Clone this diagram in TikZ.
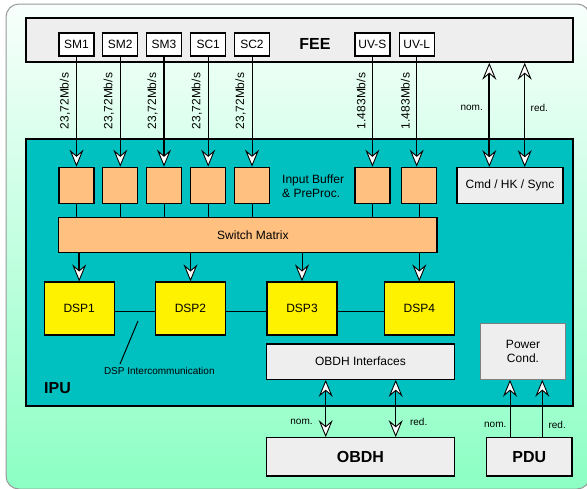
\documentclass[tikz,border=0pt]{standalone}
\usepackage{fontspec}
\setmainfont{Liberation Sans}
\usetikzlibrary{arrows.meta}
\definecolor{teal0}{RGB}{0,192,192}
\definecolor{peach}{RGB}{255,192,128}
\definecolor{boxgray}{RGB}{238,238,238}
\definecolor{mintb}{RGB}{140,255,196}
\definecolor{mintt}{RGB}{248,255,252}
\tikzset{
  base/.style={draw=black, line width=1.3pt, inner sep=0pt, font=\fontsize{12}{14}\selectfont},
  chan/.style={base, fill=white, minimum width=35pt, minimum height=23pt},
  buf/.style={base, fill=peach, minimum width=35pt, minimum height=36pt},
  dsp/.style={base, fill=yellow, minimum width=70pt, minimum height=53pt},
  gbox/.style={base, fill=boxgray},
  bigtxt/.style={font=\fontsize{16}{18}\selectfont\bfseries},
  small/.style={font=\fontsize{10}{12}\selectfont, inner sep=0pt},
  rate/.style={font=\fontsize{12}{14}\selectfont, rotate=90, inner sep=0pt},
  conn/.style={draw=black, line width=1pt},
  arr/.style={conn, -{Stealth[length=17pt, width=14pt, inset=6pt, fill=white, line width=0.9pt]}},
  darr/.style={conn, {Stealth[length=17pt, width=14pt, inset=6pt, fill=white, line width=0.9pt]}-{Stealth[length=17pt, width=14pt, inset=6pt, fill=white, line width=0.9pt]}},
}
\begin{document}
\begin{tikzpicture}[x=1pt,y=-1pt]
\useasboundingbox (0,0) rectangle (587,488);
\clip (0,0) rectangle (587,488);
% background
\shade[top color=mintt, bottom color=mintb, draw=gray!80, line width=1pt, rounded corners=13pt] (6,4) rectangle (590,489);
% FEE and IPU
\node[gbox, line width=1.6pt, minimum width=547pt, minimum height=44pt] (fee) at (299.5,40) {};
\node[bigtxt] (feel) at (315,44) {FEE};
\node[base, line width=1.6pt, fill=teal0, minimum width=547pt, minimum height=267pt] (ipu) at (299.5,272.5) {};
\node[bigtxt] (ipul) at (57.5,388) {IPU};
% channels
\node[chan] (sm1) at (76.5,44.5) {SM1};
\node[chan] (sm2) at (120.3,44.5) {SM2};
\node[chan] (sm3) at (164,44.5) {SM3};
\node[chan] (sc1) at (208.2,44.5) {SC1};
\node[chan] (sc2) at (252,44.5) {SC2};
\node[chan] (uvs) at (372.4,44.5) {UV-S};
\node[chan] (uvl) at (416.7,44.5) {UV-L};
% buffers
\node[buf] (b1) at (76.5,185.3) {};
\node[buf] (b2) at (120.3,185.3) {};
\node[buf] (b3) at (164,185.3) {};
\node[buf] (b4) at (208.2,185.3) {};
\node[buf] (b5) at (252,185.3) {};
\node[buf] (b6) at (372.4,185.3) {};
\node[buf] (b7) at (419.3,185.3) {};
\node[align=left, anchor=west, inner sep=0pt, font=\fontsize{12}{14.5}\selectfont] (ibl) at (282,186) {Input Buffer\\\& PreProc.};
% switch matrix
\node[buf, minimum width=378.3pt, minimum height=35pt] (sw) at (247.85,235.2) {\hspace{10pt}Switch Matrix};
% DSPs
\node[dsp] (d1) at (79.2,308.5) {DSP1\hspace{9pt}};
\node[dsp] (d2) at (190.5,308.5) {DSP2\hspace{9pt}};
\node[dsp] (d3) at (302,308.5) {DSP3\hspace{9pt}};
\node[dsp] (d4) at (419.3,308.5) {DSP4\hspace{9pt}};
% other boxes
\node[gbox, minimum width=106pt, minimum height=35.6pt] (cmd) at (510,185.5) {Cmd / HK / Sync};
\node[gbox, minimum width=187.6pt, minimum height=35.3pt] (obi) at (360.5,361.6) {OBDH Interfaces};
\node[gbox, draw=gray, line width=1pt, minimum width=84.6pt, minimum height=55.3pt, align=center] (pc) at (523,351.6) {Power\\Cond.};
\node[gbox, bigtxt, minimum width=187.6pt, minimum height=38.3pt] (obdh) at (360.5,456.9) {OBDH};
\node[gbox, bigtxt, minimum width=85.3pt, minimum height=38.3pt] (pdu) at (529.3,456.9) {PDU};
% FEE -> buffers
\draw[arr] (sm1.south) -- (b1.north);
\draw[arr] (sm2.south) -- (b2.north);
\draw[arr, line width=2pt] (sm3.south) -- (b3.north);
\draw[arr] (sc1.south) -- (b4.north);
\draw[arr] (sc2.south) -- (b5.north);
\draw[arr] (uvs.south) -- (uvs.south |- b6.north);
\draw[arr] (uvl.south) -- (uvl.south |- b7.north);
% rate labels
\node[rate] (r1) at (65,101) {23,72Mb/s};
\node[rate] (r2) at (108.8,101) {23,72Mb/s};
\node[rate] (r3) at (152.5,101) {23,72Mb/s};
\node[rate] (r4) at (196.7,101) {23,72Mb/s};
\node[rate] (r5) at (240.5,101) {23,72Mb/s};
\node[rate] (r6) at (361,101) {1.483Mb/s};
\node[rate] (r7) at (405.3,101) {1.483Mb/s};
% buffers -> switch
\foreach \b in {b1,b2,b3,b4,b5,b6,b7}{\draw[conn] (\b.south) -- (\b.south |- sw.north);}
% switch -> DSPs
\draw[arr, line width=2pt] (d1.north |- sw.south) -- (d1.north);
\draw[arr] (d2.north |- sw.south) -- (d2.north);
\draw[arr] (d3.north |- sw.south) -- (d3.north);
\draw[arr] (d4.north |- sw.south) -- (d4.north);
% DSP intercommunication
\draw[conn] ([yshift=-3.2pt]d1.east) -- ([yshift=-3.2pt]d2.west);
\draw[conn] ([yshift=-3.2pt]d2.east) -- ([yshift=-3.2pt]d3.west);
\draw[conn] ([yshift=-3.2pt]d3.east) -- ([yshift=-3.2pt]d4.west);
\node[small] (dic) at (159.3,371) {DSP Intercommunication};
\coordinate (dica) at (138,321);
\coordinate (dicb) at (120,364);
\draw[conn] (dica) -- (dicb);
% FEE <-> Cmd
\coordinate (fn) at (489.3,0);
\coordinate (fr) at (524.7,0);
\draw[darr, line width=2pt] (fee.south -| fn) -- (cmd.north -| fn);
\draw[darr] (fee.south -| fr) -- (cmd.north -| fr);
\node[small] (l1) at (471.7,108) {nom.};
\node[small] (l2) at (539.3,108) {red.};
% OBDH
\coordinate (on) at (325.7,0);
\coordinate (or) at (395.7,0);
\draw[darr] (obi.south -| on) -- (obdh.north -| on);
\draw[darr] (obi.south -| or) -- (obdh.north -| or);
\node[small] (l3) at (301.5,421.7) {nom.};
\node[small] (l4) at (418.7,421.7) {red.};
% PDU
\coordinate (pn) at (510,0);
\coordinate (pr) at (542.3,0);
\draw[arr] (pdu.north -| pn) -- (pc.south -| pn);
\draw[arr] (pdu.north -| pr) -- (pc.south -| pr);
\node[small] (l5) at (495.3,425) {nom.};
\node[small] (l6) at (557.2,425) {red.};
\end{tikzpicture}
\end{document}
